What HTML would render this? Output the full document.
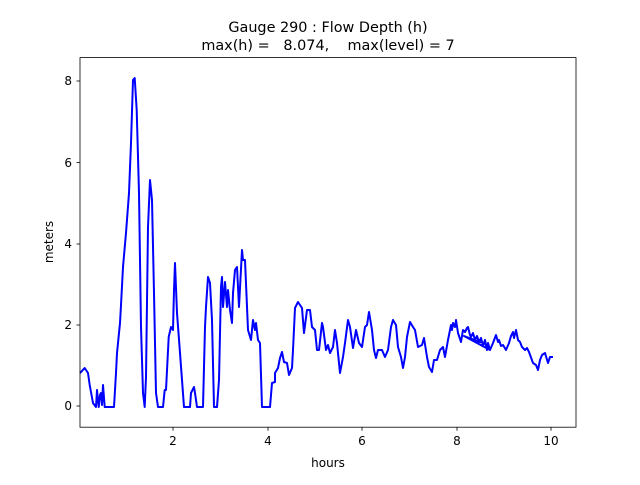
<!DOCTYPE html>
<html><head><meta charset="utf-8"><style>
body{margin:0;background:#fff;}
svg text{font-family:"DejaVu Sans","Liberation Sans",sans-serif;fill:#000;}
</style></head><body>
<svg width="640" height="480" viewBox="0 0 640 480" xmlns="http://www.w3.org/2000/svg">
<rect width="640" height="480" fill="#fff"/>
<text x="328" y="32" font-size="14.4" text-anchor="middle" xml:space="preserve">Gauge 290 : Flow Depth (h)</text>
<text x="328" y="50" font-size="14.4" text-anchor="middle" xml:space="preserve">max(h) =   8.074,    max(level) = 7</text>
<polyline fill="none" stroke="#0000ff" stroke-width="2" stroke-linejoin="round" points="
80,373 81.3,371.7 84.7,368 88,373 89.7,385 93,403 96,407 97,390 98.7,407 100,395 101,393 102,405 103,385 104.7,407 114,407 116,373 117,353 120,323 121,305 123,267 126,233 129,193 131,143 133,80 134.7,78 136.7,110 139,193 141,327 143,393 144.7,407 146,377 148,227 150,180 152,200 154,293 156,393 158,407 163,407 164.7,390 166,390 168.7,337 171,327 173,330 174,290 175,263 177,313 180,353 182,380 184,407 190,407 191,393 194,387 195,393 197,407 203,407 205,327 206,307 208,277 210,283 212,320 214,407 217,407 219,380 221,287 222,277 223,307 225,282 227,307 228,290 230,310 232,323 233,293 235,270 237,267 239,307 242,250 243,260 245,260 248,330 251,340 253,320 255,330 256,323 258,340 260,343 262,407 270,407 272,383 275,382 275,373 278,368 280,358 282,352 284,362 287,363 289,375 292,368 293,350 295,308 298,302 302,308 304,333 307,310 310,310 312,327 315,330 317,350 319,350 322,323 323,327 326,350 328,345 330,353 333,347 335,330 337,343 340,373 343,357 345,343 348,320 350,327 353,348 356,330 359,343 362,347 365,327 367,325 369,312 372,330 374,350 376,358 378,350 382,350 385,357 388,350 391,327 393,320 396,325 398,347 401,357 403,368 405,357 407,337 410,322 413,327 415,330 418,347 422,345 424,338 427,357 429,367 432,372 434,360 437,360 440,350 443,347 445,357 448,340 451,325 452,330 453,323 455,327 456,320 458,333 461,342 463,330 465,332 467,328 468,327 470,335 471,337 473,333 475,340 477,336 479,342 481,338 483,346 485,340 487,350 488,343 490,350 464,336 488,345 490,350 493,343 496,335 498,342 499,340 501,346 503,345 506,350 509,343 511,336 513,332 514,338 516,330 518,340 520,342 522,347 525,350 527,348 529,352 533,363 536,365 538,370 540,360 542,355 545,353 548,363 550,357 553,357"/>
<rect x="80" y="57.6" width="496" height="369.6" fill="none" stroke="#000" stroke-width="0.8"/>
<g stroke="#000" stroke-width="0.8">
<line x1="173" y1="427.2" x2="173" y2="430.7"/><line x1="268" y1="427.2" x2="268" y2="430.7"/><line x1="362" y1="427.2" x2="362" y2="430.7"/><line x1="457" y1="427.2" x2="457" y2="430.7"/><line x1="551" y1="427.2" x2="551" y2="430.7"/>
<line x1="76.5" y1="406" x2="80" y2="406"/><line x1="76.5" y1="325" x2="80" y2="325"/><line x1="76.5" y1="244" x2="80" y2="244"/><line x1="76.5" y1="162.5" x2="80" y2="162.5"/><line x1="76.5" y1="81" x2="80" y2="81"/>
</g>
<g font-size="12" text-anchor="middle">
<text x="173" y="445">2</text><text x="268" y="445">4</text><text x="362" y="445">6</text><text x="457" y="445">8</text><text x="551" y="445">10</text>
<text x="328" y="467">hours</text>
</g>
<g font-size="12" text-anchor="end">
<text x="72" y="410">0</text><text x="72" y="329">2</text><text x="72" y="248">4</text><text x="72" y="167">6</text><text x="72" y="85">8</text>
</g>
<text transform="translate(53,242) rotate(-90)" font-size="12" text-anchor="middle">meters</text>
</svg>
</body></html>
